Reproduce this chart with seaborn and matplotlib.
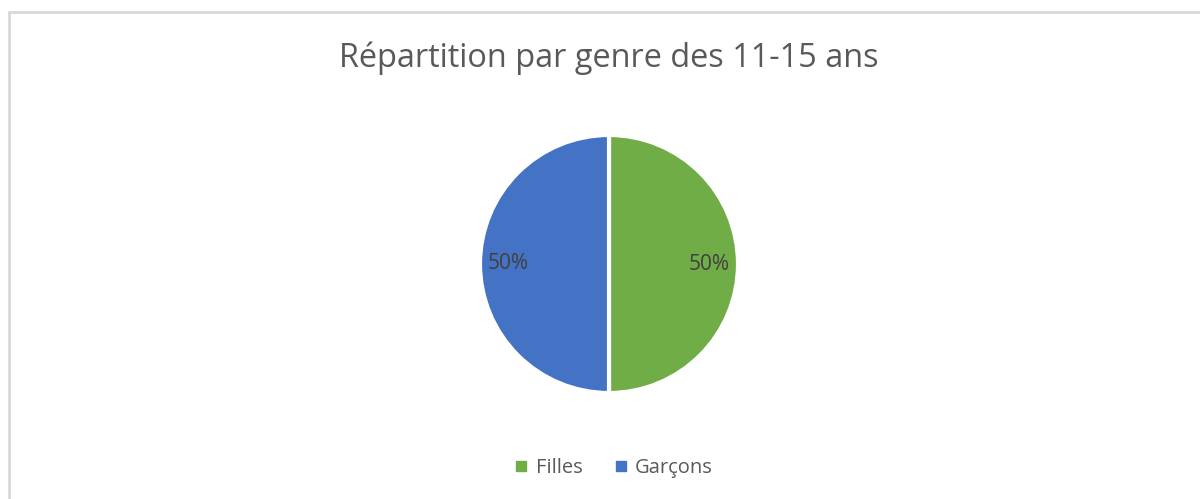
import matplotlib
matplotlib.use("Agg")
import matplotlib.pyplot as plt
import seaborn as sns
from matplotlib.lines import Line2D

# Data
categories = ["Filles", "Garçons"]
values = [50, 50]
colors = ["#70AD47", "#4472C4"]
title = "Répartition par genre des 11-15 ans"

sns.set_theme(style="white")
plt.rcParams['font.family'] = ['Open Sans', 'DejaVu Sans']

fig = plt.figure(figsize=(12, 4.99), dpi=100)
ax = fig.add_axes([609 / 1200 - 0.25, 1 - 393 / 499, 0.5, 258 / 499])

ax.pie(values, colors=colors, startangle=90, counterclock=False,
       autopct="%1.0f%%", pctdistance=0.78,
       wedgeprops=dict(edgecolor="white", linewidth=3),
       textprops=dict(color="#404040", fontsize=15))
ax.set_xlim(-1, 1)
ax.set_ylim(-1, 1)
ax.set_aspect("equal")

fig.text(609 / 1200, 1 - 58 / 499, title, ha="center", va="center",
         fontsize=23.4, color="#595959")

handles = [Line2D([0], [0], marker="s", linestyle="", markersize=7,
                  markerfacecolor=c, markeredgecolor=c) for c in colors]
fig.legend(handles, categories, loc="center", bbox_to_anchor=(612 / 1200, 1 - 468 / 499),
           ncol=2, frameon=False, fontsize=14.5, labelcolor="#595959",
           handletextpad=0.2, columnspacing=1.4, handlelength=1.0)

# chart area border (top and left visible)
border = "#D9D9D9"
fig.add_artist(Line2D([8.5 / 1200, 1], [1 - 11.5 / 499, 1 - 11.5 / 499], color=border, lw=2))
fig.add_artist(Line2D([8.5 / 1200, 8.5 / 1200], [0, 1 - 11.5 / 499], color=border, lw=2))

fig.savefig("out.png", dpi=100, facecolor="white")
